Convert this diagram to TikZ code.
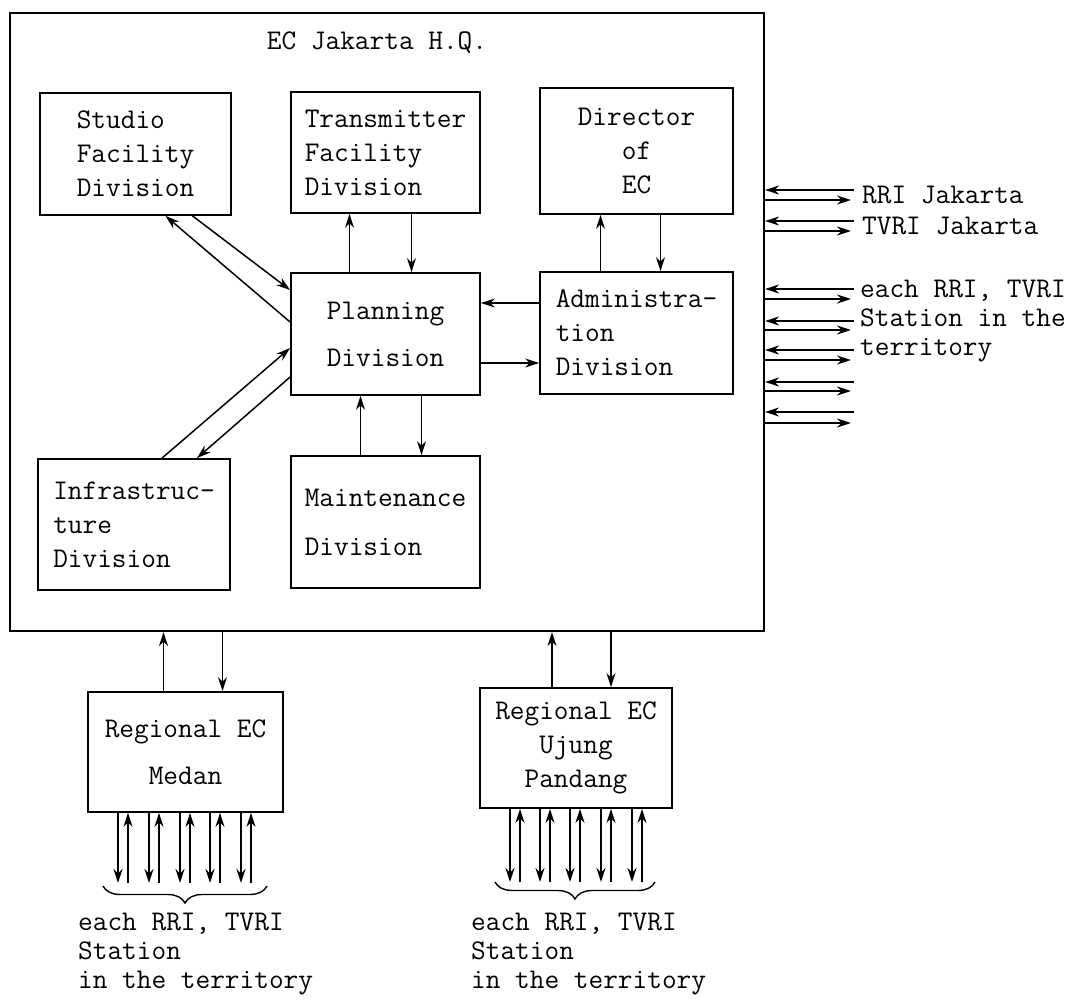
\documentclass[tikz,border=0pt]{standalone}
\usepackage{tikz}
\usetikzlibrary{arrows.meta,calc,positioning}
\usetikzlibrary{decorations.pathreplacing}

\begin{document}
\begin{tikzpicture}[x=1pt,y=-1pt,
every node/.style={font=\ttfamily\fontsize{28.5}{34}\selectfont},
box/.style={draw,line width=1.8pt,inner sep=0pt},
arr/.style={-{Stealth[length=14pt,width=9pt]},line width=1.5pt},
lbl/.style={font=\ttfamily\fontsize{28.5}{29}\selectfont,anchor=west,align=left,inner sep=0pt}]
\useasboundingbox (0,0) rectangle (1077,1001);
% headquarters
\node[box,line width=2.2pt,minimum width=754pt,minimum height=618pt] (HQ) at (387,322) {};
\node (T) at (377,43) {EC Jakarta H.Q.};
\node[box,minimum width=191pt,minimum height=122pt,align=left] (SF) at (135.5,154) {Studio\\Facility\\Division};
\node[box,minimum width=189pt,minimum height=121pt,align=left] (TF) at (385.5,152.5) {Transmitter\\Facility\\Division};
\node[box,minimum width=193pt,minimum height=126pt,align=center] (DE) at (636.5,151) {Director\\of\\EC};
\node[box,minimum width=189pt,minimum height=122pt,align=center] (PD) at (385.5,334) {Planning\\[13pt]Division};
\node[box,minimum width=193pt,minimum height=122pt,align=left] (AD) at (636.5,333) {Administra-\\tion\\Division};
\node[box,minimum width=192pt,minimum height=131pt,align=left] (IN) at (134,524.5) {Infrastruc-\\ture\\Division};
\node[box,minimum width=189pt,minimum height=132pt,align=left] (MD) at (385.5,522) {Maintenance\\[15pt]Division};
% regional
\node[box,minimum width=195pt,minimum height=120pt,align=center] (ME) at (185.5,752) {Regional EC\\[13pt]Medan};
\node[box,minimum width=192pt,minimum height=120pt,align=center] (UP) at (576,748) {Regional EC\\Ujung\\Pandang};
% inside HQ
\draw[arr] ([yshift=12pt]PD.west) -- ([xshift=30pt]SF.south);
\draw[arr] ([xshift=57pt]SF.south) -- ([yshift=44pt]PD.west);
\draw[arr] ([xshift=28pt]IN.north) -- ([yshift=-14pt]PD.west);
\draw[arr] ([yshift=-43pt]PD.west) -- ([xshift=63pt]IN.north);
\draw[arr] ([xshift=-36pt]PD.north) -- ([xshift=-36pt]TF.south);
\draw[arr] ([xshift=26pt]TF.south) -- ([xshift=26pt]PD.north);
\draw[arr] ([xshift=-25pt]MD.north) -- ([xshift=-25pt]PD.south);
\draw[arr] ([xshift=36pt]PD.south) -- ([xshift=36pt]MD.north);
\draw[arr] ([xshift=-36pt]AD.north) -- ([xshift=-36pt]DE.south);
\draw[arr] ([xshift=24pt]DE.south) -- ([xshift=24pt]AD.north);
\coordinate (a1) at ([yshift=30pt]AD.west);
\coordinate (p1) at ([yshift=-29pt]PD.east);
\draw[arr] (a1) -- (a1 -| PD.east);
\draw[arr] (p1) -- (p1 -| AD.west);
% HQ and regional
\draw[arr] ([xshift=-22pt]ME.north) -- ($(ME.north |- HQ.south)+(-22,0)$);
\draw[arr] ($(ME.north |- HQ.south)+(37,0)$) -- ([xshift=37pt]ME.north);
\draw[arr] ([xshift=-24pt]UP.north) -- ($(UP.north |- HQ.south)+(-24,0)$);
\draw[arr] ($(UP.north |- HQ.south)+(35,0)$) -- ([xshift=35pt]UP.north);
% stations on the right
\foreach \i/\yl/\yr in {1/190/200,2/221/231,3/289/299,4/321/330,5/350/360,6/382/391,7/412/423} {
  \coordinate (L\i) at (854,\yl);
  \coordinate (R\i) at (851,\yr);
  \draw[arr] (L\i) -- (HQ.east |- L\i);
  \draw[arr] (HQ.east |- R\i) -- (R\i);
}
\node[lbl] (RJ) at (862,195) {RRI Jakarta};
\node[lbl] (TJ) at (862,226) {TVRI Jakarta};
\node[lbl] (ES) at (860,321) {each RRI, TVRI\\Station in the\\territory};
% stations below
\foreach \d in {118,149,180,210,241} {
  \coordinate (m\d) at (\d,883);
  \draw[arr] (ME.south -| m\d) -- (m\d);
  \draw[arr] ($(m\d)+(10,0)$) -- ($(ME.south -| m\d)+(10,0)$);
}
\foreach \d in {510,540,570,601,632} {
  \coordinate (u\d) at (\d,882);
  \draw[arr] (UP.south -| u\d) -- (u\d);
  \draw[arr] ($(u\d)+(10,0)$) -- ($(UP.south -| u\d)+(10,0)$);
}
\draw[decorate,decoration={brace,mirror,amplitude=17pt},line width=1.4pt] (103,886) -- (267,886);
\draw[decorate,decoration={brace,mirror,amplitude=17pt},line width=1.4pt] (495,882) -- (655,882);
\node[lbl] (MT) at (78,954) {each RRI, TVRI\\Station\\in the territory};
\node[lbl] (UT) at (471,954) {each RRI, TVRI\\Station\\in the territory};
\end{tikzpicture}
\end{document}
